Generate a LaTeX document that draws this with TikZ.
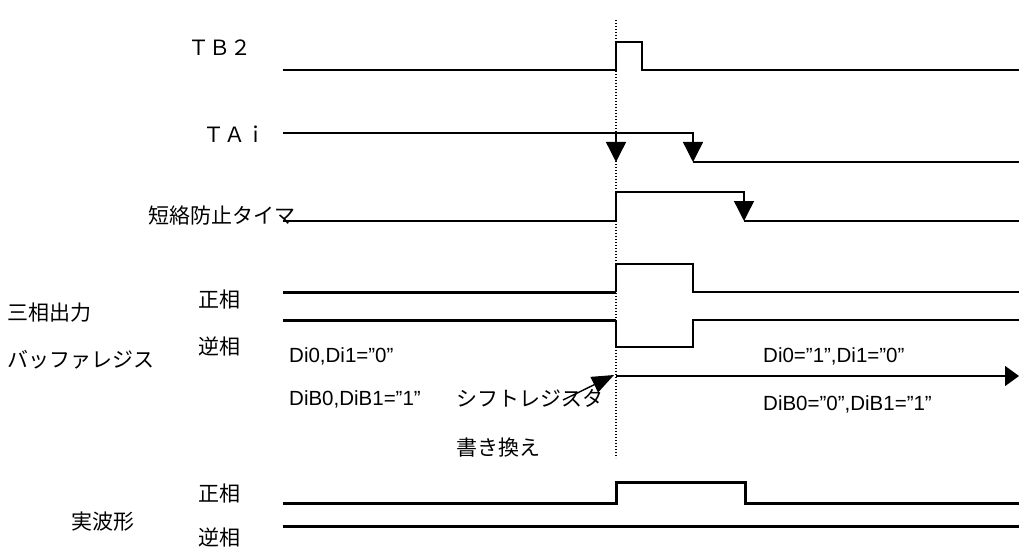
\documentclass[tikz,border=0pt]{standalone}
\usepackage{fontspec}
\setmainfont{Liberation Sans}
\newfontfamily\jpfont{Noto Sans CJK JP}
\usetikzlibrary{arrows.meta,positioning}

\begin{document}
\begin{tikzpicture}[x=1pt,y=-1pt,
  lbl/.style={inner sep=0pt,anchor=base west,font=\fontsize{20.5}{24}\selectfont},
  jlbl/.style={inner sep=0pt,anchor=base west,font=\jpfont\fontsize{21}{25}\selectfont},
  sig/.style={line width=1.4pt},
  bus/.style={line width=3pt},
  fall/.style={-{Triangle[length=20pt,width=20pt]}},
  marker/.style={line width=1.2pt,dash pattern=on 1.2pt off 1.8pt}]
\useasboundingbox (0,0) rectangle (1019,548);

% labels
\node[jlbl] (tb2) at (188,56) {ＴＢ２};
\node[jlbl] (tai) at (203,143) {ＴＡｉ};
\node[jlbl] (timer) at (148,223.5) {短絡防止タイマ};
\node[jlbl] (buf) at (7,320.5) {三相出力};
\node[jlbl] (bufname) at (7,367) {バッファレジス};
\node[jlbl] (bufP) at (198,307) {正相};
\node[jlbl] (bufN) at (198,354.5) {逆相};
\node[lbl] (di) at (289,362.5) {Di0,Di1=”0”};
\node[lbl] (dib) at (289,405.5) {DiB0,DiB1=”1”};
\node[jlbl] (shift) at (456,406) {シフトレジスタ};
\node[jlbl] (rewrite) at (456,455) {書き換え};
\node[lbl] (diNew) at (763,362.5) {Di0=”1”,Di1=”0”};
\node[lbl] (dibNew) at (763,410) {DiB0=”0”,DiB1=”1”};
\node[jlbl] (real) at (71,529.5) {実波形};
\node[jlbl] (realP) at (198,501) {正相};
\node[jlbl] (realN) at (198,545) {逆相};

% timing marker
\draw[marker] (616,20) -- (616,458);

% TB2
\draw[sig] (283,70) -- (616,70) -- (616,42) -- (642,42) -- (642,70) -- (1019,70);

% TAi
\draw[sig,fall] (283,133) -- (693,133) -- (693,162);
\draw[sig] (693,162) -- (1019,162);
\draw[sig,fall] (616,133) -- (616,162);

% short circuit timer
\draw[sig,fall] (283,221) -- (616,221) -- (616,192) -- (744,192) -- (744,221);
\draw[sig] (744,221) -- (1019,221);

% buffer register
\draw[bus] (283,292) -- (616,292);
\draw[sig] (616,292) -- (616,264) -- (693,264) -- (693,292) -- (1019,292);
\draw[bus] (283,320) -- (616,320);
\draw[sig] (616,320) -- (616,347) -- (693,347) -- (693,320) -- (1019,320);

% shift register rewrite
\coordinate (shiftFrom) at (563,400);
\coordinate (shiftTo) at (614,375);
\coordinate (busFrom) at (616,376);
\coordinate (busTo) at (1019,376);
\draw[sig,-{Triangle[length=22pt,width=17pt]}] (shiftFrom) -- (shiftTo);
\draw[sig,-{Triangle[length=14pt,width=20pt]}] (busFrom) -- (busTo);

% real waveform
\draw[bus] (283,503) -- (616,503) -- (616,482) -- (745,482) -- (745,503) -- (1019,503);
\draw[bus] (283,526) -- (1019,526);
\end{tikzpicture}
\end{document}
